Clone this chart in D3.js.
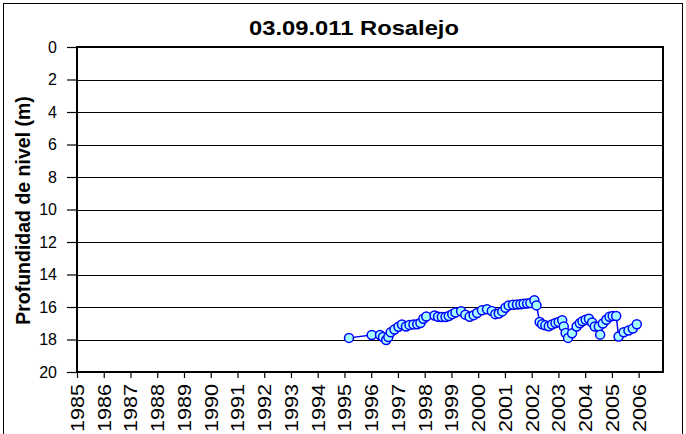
<!DOCTYPE html>
<html>
<head>
<meta charset="utf-8">
<script src="https://cdn.jsdelivr.net/npm/d3@7"></script>
<style>
  html, body { margin: 0; padding: 0; background: #fff; overflow: hidden; }
  svg { display: block; font-family: "Liberation Sans", Arial, sans-serif; }
</style>
</head>
<body>
<svg id="chart" width="686" height="434"></svg>
<script>
// Water-table depth readings (decimal year, depth in metres)
const years = [
  1995.17, 1996.02, 1996.33, 1996.44, 1996.56, 1996.64, 1996.73, 1996.87,
  1997.02, 1997.15, 1997.30, 1997.43, 1997.58, 1997.72, 1997.84, 1997.95,
  1998.06, 1998.37, 1998.50, 1998.64, 1998.78, 1998.90, 1999.03, 1999.15,
  1999.36, 1999.52, 1999.68, 1999.83, 1999.96, 2000.14, 2000.33, 2000.51,
  2000.64, 2000.77, 2000.90, 2001.02, 2001.14, 2001.30, 2001.45, 2001.58,
  2001.70, 2001.83, 2001.95, 2002.10, 2002.18, 2002.30, 2002.39, 2002.51,
  2002.64, 2002.76, 2002.89, 2003.01, 2003.14, 2003.20, 2003.27, 2003.36,
  2003.51, 2003.68, 2003.80, 2003.90, 2004.02, 2004.14, 2004.26, 2004.36,
  2004.51, 2004.56, 2004.66, 2004.79, 2004.91, 2005.03, 2005.16, 2005.25,
  2005.44, 2005.62, 2005.78, 2005.93
];
const depths = [
  17.90, 17.72, 17.72, 17.85, 18.03, 17.85, 17.55, 17.38,
  17.22, 17.08, 17.20, 17.10, 17.07, 17.06, 16.98, 16.72,
  16.58, 16.52, 16.60, 16.62, 16.62, 16.56, 16.44, 16.34,
  16.26, 16.47, 16.60, 16.50, 16.37, 16.20, 16.14, 16.25,
  16.44, 16.40, 16.27, 16.05, 15.90, 15.86, 15.85, 15.83,
  15.80, 15.79, 15.75, 15.58, 15.90, 16.92, 17.06, 17.13,
  17.18, 17.08, 16.98, 16.92, 16.82, 17.20, 17.60, 17.90,
  17.62, 17.20, 17.00, 16.88, 16.78, 16.72, 16.95, 17.20,
  17.20, 17.70, 17.02, 16.78, 16.60, 16.55, 16.55, 17.82,
  17.55, 17.45, 17.33, 17.06
];
const yearTicks = d3.range(1985, 2007);
const depthTicks = d3.range(0, 21, 2);
const title = "03.09.011 Rosalejo";
const yTitle = "Profundidad de nivel (m)";

const svg = d3.select("#chart");
const plot = { left: 77, right: 663, top: 47, bottom: 372 };

const x = d3.scaleLinear().domain([1985, 2006.91]).range([plot.left, plot.right]);
const y = d3.scaleLinear().domain([0, 20]).range([plot.top, plot.bottom]);

// outer frame
svg.append("rect")
  .attr("x", 3.5).attr("y", 3.5).attr("width", 679).attr("height", 440)
  .attr("fill", "none").attr("stroke", "#000").attr("stroke-width", 1);

// title
svg.append("text")
  .attr("x", 354).attr("y", 35)
  .attr("text-anchor", "middle")
  .attr("font-size", 21).attr("font-weight", "bold")
  .attr("textLength", 210).attr("lengthAdjust", "spacingAndGlyphs")
  .text(title);

// horizontal gridlines
svg.append("g").selectAll("line")
  .data(depthTicks)
  .join("line")
  .attr("x1", plot.left).attr("x2", plot.right)
  .attr("y1", d => Math.round(y(d)) + 0.5).attr("y2", d => Math.round(y(d)) + 0.5)
  .attr("stroke", "#000").attr("stroke-width", 1.2);

// plot area border
svg.append("rect")
  .attr("x", plot.left).attr("y", plot.top)
  .attr("width", plot.right - plot.left).attr("height", plot.bottom - plot.top)
  .attr("fill", "none").attr("stroke", "#000").attr("stroke-width", 2);

// y axis
const yAxis = d3.axisLeft(y).tickValues(depthTicks).tickSize(10).tickPadding(10).tickFormat(d3.format("d"));
const gy = svg.append("g").attr("transform", `translate(${plot.left},0)`).call(yAxis);
gy.select(".domain").remove();
gy.selectAll(".tick line").attr("stroke", "#000").attr("stroke-width", 1.2);
gy.selectAll(".tick text").attr("font-size", 16).attr("fill", "#000")
  .attr("font-family", "'Liberation Sans', Arial, sans-serif");

// x axis with rotated year labels
const xAxis = d3.axisBottom(x).tickValues(yearTicks).tickSize(6).tickFormat(d3.format("d"));
const gx = svg.append("g").attr("transform", `translate(0,${plot.bottom})`).call(xAxis);
gx.select(".domain").remove();
gx.selectAll(".tick line").attr("stroke", "#000").attr("stroke-width", 1.2);
gx.selectAll(".tick text")
  .attr("font-size", 18).attr("fill", "#000")
  .attr("font-family", "'Liberation Sans', Arial, sans-serif")
  .attr("transform", "rotate(-90)")
  .attr("text-anchor", "end")
  .attr("x", -12).attr("y", 0).attr("dy", "0.36em")
  .attr("textLength", 48).attr("lengthAdjust", "spacingAndGlyphs");

// y axis title
svg.append("text")
  .attr("transform", `translate(30,${(plot.top + plot.bottom) / 2 + 1}) rotate(-90)`)
  .attr("text-anchor", "middle")
  .attr("font-size", 19.5).attr("font-weight", "bold")
  .text(yTitle);

// series
const data = years.map((t, i) => ({ t, d: depths[i] }));
const line = d3.line().x(p => x(p.t)).y(p => y(p.d));
svg.append("path")
  .datum(data)
  .attr("d", line)
  .attr("fill", "none").attr("stroke", "#0000ff").attr("stroke-width", 1.5);

svg.append("g").selectAll("circle")
  .data(data)
  .join("circle")
  .attr("cx", p => x(p.t)).attr("cy", p => y(p.d))
  .attr("r", 4.5)
  .attr("fill", "#a6ffff").attr("stroke", "#0000ff").attr("stroke-width", 1.5);
</script>
</body>
</html>
